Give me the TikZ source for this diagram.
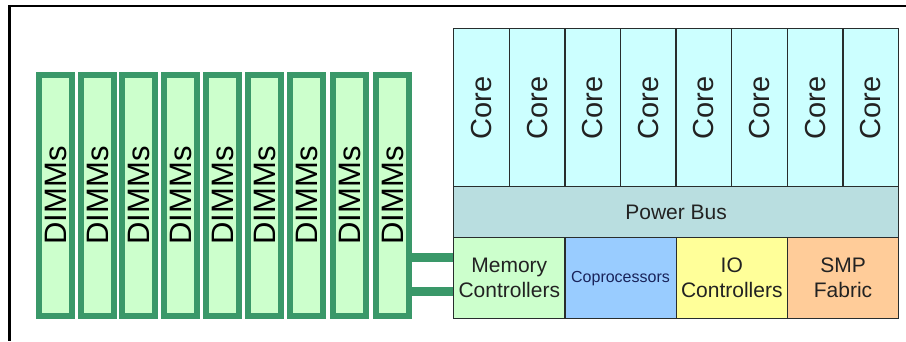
\documentclass[tikz,border=0pt]{standalone}
\usepackage{fontspec}
\setmainfont{Liberation Sans}
\definecolor{dimmline}{RGB}{58,152,105}
\definecolor{dimmfill}{RGB}{204,255,204}
\definecolor{corefill}{RGB}{204,255,255}
\definecolor{busfill}{RGB}{185,222,224}
\definecolor{copfill}{RGB}{153,204,255}
\definecolor{iofill}{RGB}{255,255,153}
\definecolor{smpfill}{RGB}{255,204,153}
\definecolor{boxline}{RGB}{40,45,45}
\definecolor{txt}{RGB}{34,34,34}
\definecolor{coptxt}{RGB}{25,35,90}
\begin{document}
\begin{tikzpicture}[x=1pt,y=-1pt,
  dimm/.style={draw=dimmline,line width=6pt,fill=dimmfill,inner sep=0pt,
    minimum width=33pt,minimum height=241pt,anchor=north west,
    font=\fontsize{31}{31}\selectfont,text=black},
  chipbox/.style={draw=boxline,line width=1.3pt,inner sep=0pt,anchor=north west,
    text=txt,align=center},
  corebox/.style={chipbox,fill=corefill,minimum width=55.6pt,minimum height=158pt,
    font=\fontsize{29}{29}\selectfont},
  lowbox/.style={chipbox,minimum width=111.25pt,minimum height=81pt,
    font=\fontsize{21}{25}\selectfont},
  link/.style={draw=dimmline,line width=9pt}
]
\useasboundingbox (0,0) rectangle (906,341);
\fill[white] (0,0) rectangle (906,341);
% frame
\draw[line width=2.4pt,black] (906,6) -- (9.5,6) -- (9.5,341);
% DIMMs
\foreach \i/\xx in {1/33,2/75,3/116,4/158,5/200,6/242,7/284,8/327,9/370}{
  \node[dimm] (d\i) at (\xx+3,72) {\rotatebox{90}{DIMMs}};
}
% cores
\foreach \i in {0,...,7}{
  \node[corebox] (c\i) at (453+55.625*\i,28) {\rotatebox{90}{Core}};
}
\node[chipbox,fill=busfill,minimum width=445pt,minimum height=51pt,
  font=\fontsize{21}{21}\selectfont] (bus) at (453,186) {Power Bus};
\node[lowbox,fill=dimmfill] (mc) at (453,237) {Memory\\Controllers};
\node[lowbox,fill=copfill,text=coptxt,font=\fontsize{16}{16}\selectfont] (cop) at (564.25,237) {Coprocessors};
\node[lowbox,fill=iofill] (io) at (675.5,237) {IO\\Controllers};
\node[lowbox,fill=smpfill] (smp) at (786.75,237) {SMP\\Fabric};
% links
\draw[link] ([yshift=-61.5pt]d9.east) -- ([yshift=-61.5pt]d9.east -| mc.west);
\draw[link] ([yshift=-95.5pt]d9.east) -- ([yshift=-95.5pt]d9.east -| mc.west);
\end{tikzpicture}
\end{document}
